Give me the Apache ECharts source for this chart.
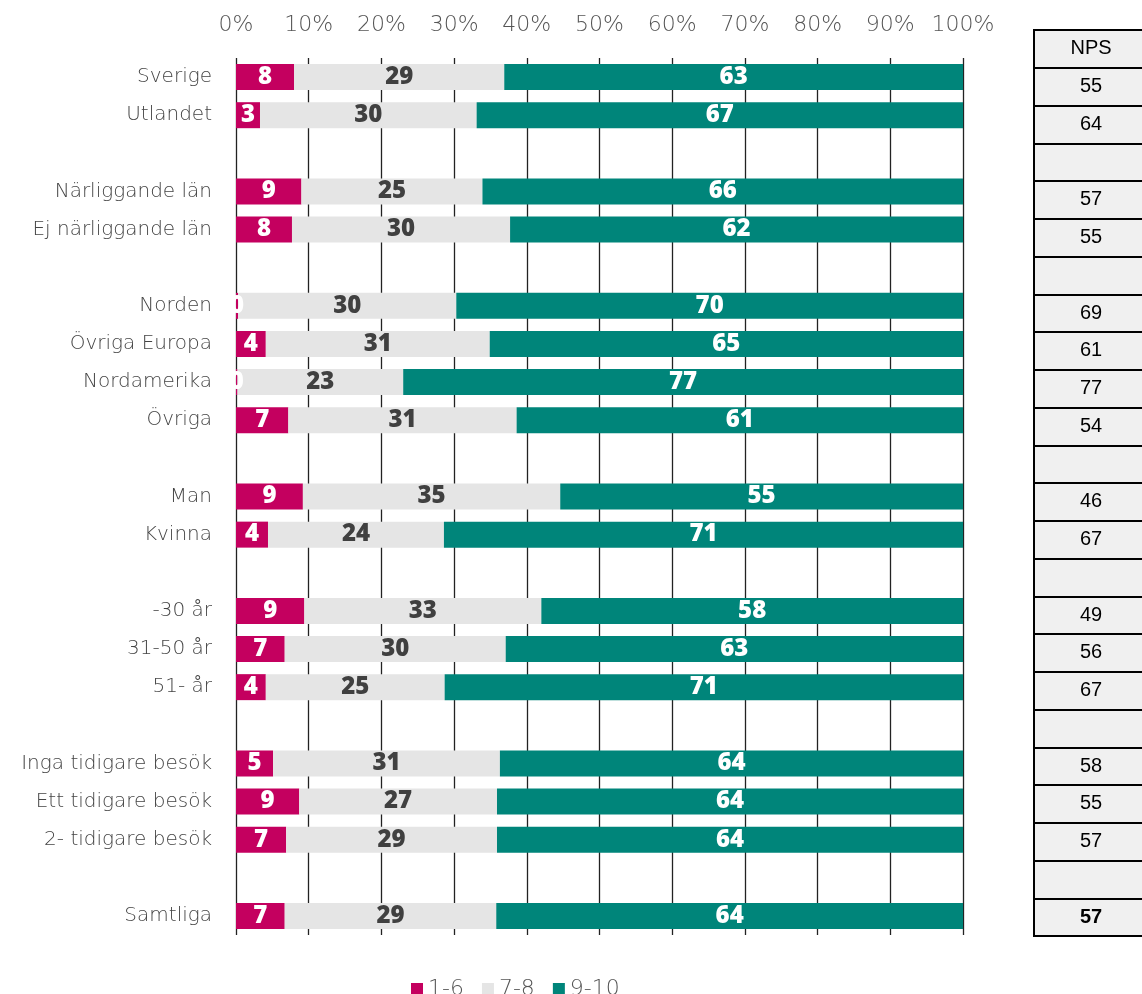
<!DOCTYPE html>
<html>
<head>
<meta charset="utf-8">
<script src="https://cdn.jsdelivr.net/npm/echarts@6/dist/echarts.min.js"></script>
<style>
  html, body { margin: 0; padding: 0; background: #fff; }
  #chart { width: 1142px; height: 994px; }
</style>
</head>
<body>
<div id="chart"></div>
<script>
// rader (tomma strängar = mellanrum mellan grupper)
const categories = [
  "Sverige", "Utlandet", "",
  "Närliggande län", "Ej närliggande län", "",
  "Norden", "Övriga Europa", "Nordamerika", "Övriga", "",
  "Man", "Kvinna", "",
  "-30 år", "31-50 år", "51- år", "",
  "Inga tidigare besök", "Ett tidigare besök", "2- tidigare besök", "",
  "Samtliga"
];
const low = [8.0, 3.3, null, 9.0, 7.7, null, 0.3, 4.1, 0.2, 7.2, null, 9.2, 4.4, null, 9.4, 6.7, 4.1, null, 5.1, 8.7, 6.9, null, 6.7];
const mid = [28.9, 29.8, null, 24.9, 30.0, null, 30.0, 30.8, 22.8, 31.4, null, 35.4, 24.2, null, 32.6, 30.4, 24.6, null, 31.2, 27.2, 29.0, null, 29.1];
const high = [63.1, 66.9, null, 66.1, 62.3, null, 69.7, 65.1, 77.0, 61.4, null, 55.4, 71.4, null, 58.0, 62.9, 71.3, null, 63.7, 64.1, 64.1, null, 64.2];
const seriesNames = ["1-6", "7-8", "9-10"];
const colors = ["#C4005F", "#E5E5E5", "#00857A"];

// NPS-tabellen till höger
const npsHeader = "NPS";
const npsValues = ["55", "64", "", "57", "55", "", "69", "61", "77", "54", "", "46", "67", "", "49", "56", "67", "", "58", "55", "57", "", "57"];

const lightFont = "DejaVu Sans";

const chart = echarts.init(document.getElementById("chart"));

const barLabel = (textColor) => ({
  show: true,
  position: "inside",
  color: textColor,
  fontFamily: "Open Sans",
  fontWeight: 800,
  fontSize: 24,
  formatter: (p) => (p.value == null ? "" : String(Math.round(p.value)))
});

const tableRows = [npsHeader].concat(npsValues);

chart.setOption({
  animation: false,
  legend: {
    data: seriesNames,
    left: 406,
    top: 973,
    icon: "rect",
    itemWidth: 12,
    itemHeight: 12,
    itemGap: 18,
    textStyle: { fontFamily: lightFont, fontWeight: 200, fontSize: 22, color: "#555" }
  },
  grid: [
    { left: 236, top: 58, width: 727, height: 877, outerBoundsMode: "none" },
    {
      left: 1034, top: 30, width: 114, height: 906, outerBoundsMode: "none",
      show: true, backgroundColor: "#F0F0F0", borderColor: "#000", borderWidth: 2
    }
  ],
  xAxis: [
    {
      type: "value",
      position: "top",
      min: 0,
      max: 100,
      interval: 10,
      axisLine: { show: false },
      axisTick: { show: false },
      axisLabel: {
        formatter: "{value}%",
        fontFamily: lightFont,
        fontWeight: 200,
        fontSize: 22,
        color: "#555",
        margin: 22
      },
      splitLine: { show: true, lineStyle: { color: "#222", width: 1.3 } }
    },
    { gridIndex: 1, type: "value", min: 0, max: 1, show: false }
  ],
  yAxis: [
    {
      type: "category",
      inverse: true,
      data: categories,
      axisLine: { show: false },
      axisTick: { show: false },
      axisLabel: {
        fontFamily: lightFont,
        fontWeight: 200,
        fontSize: 20,
        color: "#444",
        margin: 24
      }
    },
    {
      gridIndex: 1,
      type: "category",
      inverse: true,
      data: tableRows.map((r, i) => "r" + i),
      axisLine: { show: false },
      axisTick: { show: false },
      axisLabel: { show: false },
      splitLine: { show: true, interval: 0, lineStyle: { color: "#000", width: 2 } }
    }
  ],
  series: [
    {
      name: seriesNames[0], type: "bar", stack: "a", barWidth: 26,
      data: low, itemStyle: { color: colors[0] }, label: barLabel("#fff")
    },
    {
      name: seriesNames[1], type: "bar", stack: "a", barWidth: 26,
      data: mid, itemStyle: { color: colors[1] }, label: barLabel("#404040")
    },
    {
      name: seriesNames[2], type: "bar", stack: "a", barWidth: 26,
      data: high, itemStyle: { color: colors[2] }, label: barLabel("#fff")
    },
    {
      name: "NPS",
      type: "bar",
      xAxisIndex: 1,
      yAxisIndex: 1,
      barCategoryGap: 0,
      data: tableRows.map((r, i) => ({
        value: 1,
        label: { fontWeight: i === tableRows.length - 1 ? "bold" : "normal" }
      })),
      itemStyle: { color: "rgba(0,0,0,0)" },
      label: {
        show: true,
        position: "inside",
        fontFamily: "Liberation Sans",
        fontSize: 20,
        color: "#000",
        formatter: (p) => tableRows[p.dataIndex]
      }
    }
  ]
});
</script>
</body>
</html>
